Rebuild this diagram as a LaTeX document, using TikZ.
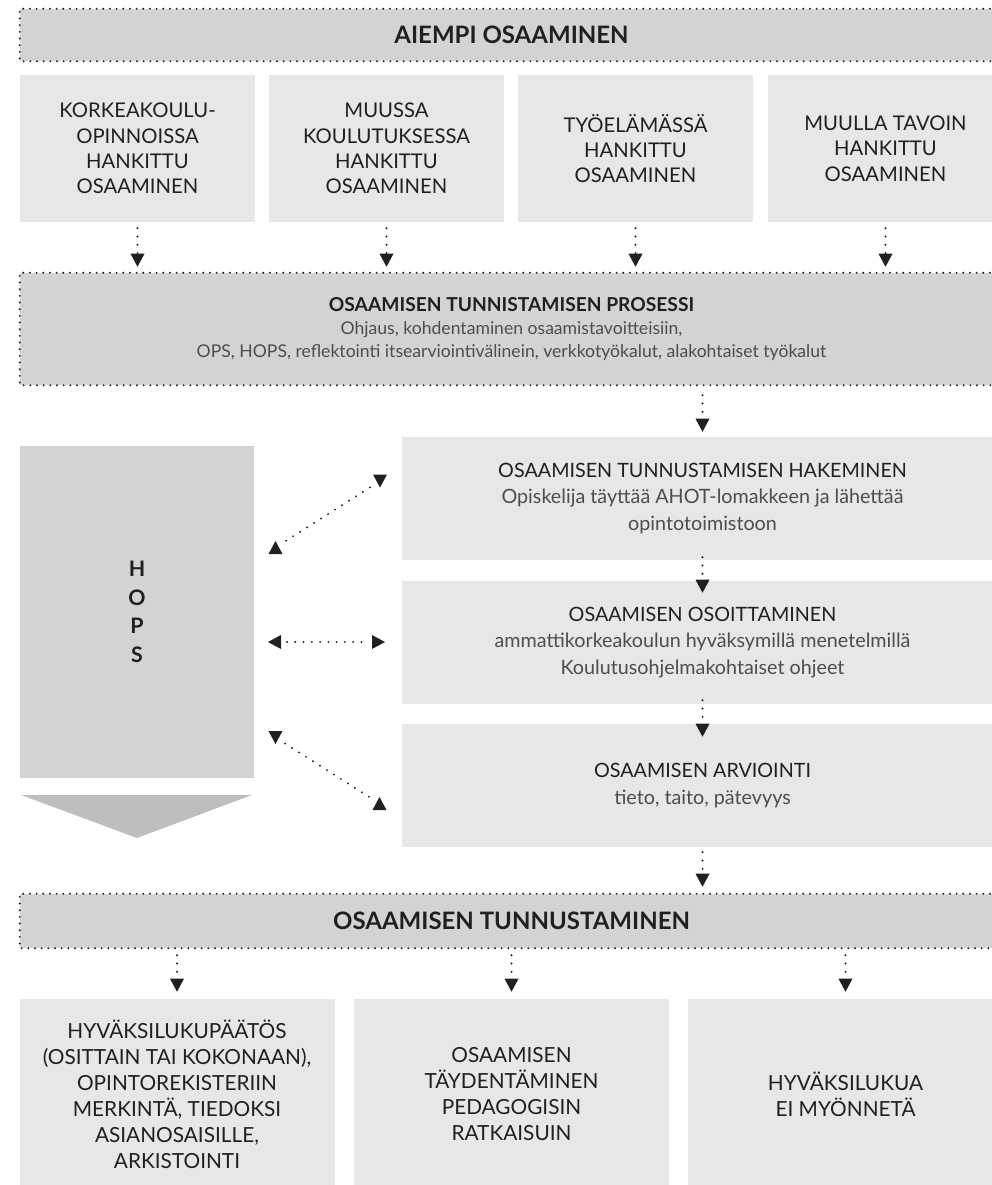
\documentclass[tikz,border=0pt]{standalone}
\usepackage{fontspec}
\setmainfont{Lato}
\usetikzlibrary{arrows.meta}

\definecolor{bandfill}{HTML}{D1D3D4}
\definecolor{cellfill}{HTML}{E6E7E8}
\definecolor{chevfill}{HTML}{BCBEC0}
\definecolor{ink}{HTML}{231F20}
\definecolor{softink}{HTML}{4D4D4F}

\tikzset{
  band/.style={fill=bandfill, inner sep=0pt, minimum width=737.25pt, align=center, text=ink},
  cell/.style={fill=cellfill, inner sep=0pt, align=center, text=ink},
  topcell/.style={cell, minimum width=176.25pt, minimum height=110.25pt,
    font=\fontsize{15.2pt}{19pt}\selectfont},
  midcell/.style={cell, minimum width=450.75pt, minimum height=92.25pt,
    font=\fontsize{14.8pt}{19.8pt}\selectfont},
  endcell/.style={cell, minimum width=236.25pt, minimum height=142.5pt,
    font=\fontsize{15.6pt}{19.5pt}\selectfont},
  bandtitle/.style={font=\bfseries\fontsize{18pt}{21pt}\selectfont},
  dotframe/.style={draw=ink, line width=1.6pt, line cap=round, dash pattern=on 0pt off 5pt},
  link/.style={draw=ink, line width=1.6pt, line cap=round, dash pattern=on 0pt off 6.2pt},
  flow/.style={link, -{Triangle[width=10.5pt, length=9.75pt, line width=0pt]}},
  pics/tipdown/.style={code={\fill[ink] (-7,-6.5) -- (7,-6.5) -- (0,6.5) -- cycle;}},
  pics/tipup/.style={code={\fill[ink] (-7,6.5) -- (7,6.5) -- (0,-6.5) -- cycle;}},
  pics/tipleft/.style={code={\fill[ink] (6.5,-7) -- (6.5,7) -- (-6.5,0) -- cycle;}},
  pics/tipright/.style={code={\fill[ink] (-6.5,-7) -- (-6.5,7) -- (6.5,0) -- cycle;}},
}

\begin{document}
\begin{tikzpicture}[x=0.75pt, y=-0.75pt]
\useasboundingbox (0,0) rectangle (992,1185);

% top band and the four sources of prior learning
\node[band, minimum height=39pt, bandtitle] (prior) at (511.5,35) {AIEMPI OSAAMINEN};
\draw[dotframe] (prior.north east) -- (prior.north west) -- (prior.south west) -- (prior.south east);

\node[topcell] (k1) at (137.5,148.5) {KORKEAKOULU-\\OPINNOISSA\\HANKITTU\\OSAAMINEN};
\node[topcell] (k2) at (386.5,148.5) {MUUSSA\\KOULUTUKSESSA\\HANKITTU\\OSAAMINEN};
\node[topcell] (k3) at (635.5,148.5) {TYÖELÄMÄSSÄ\\HANKITTU\\OSAAMINEN};
\node[topcell] (k4) at (885.5,148.5) {MUULLA TAVOIN\\HANKITTU\\OSAAMINEN};

% identification process band
\node[band, minimum height=84pt, font=\fontsize{13.2pt}{17.5pt}\selectfont] (proc) at (511.5,329)
  {{\bfseries\fontsize{14.4pt}{17.5pt}\selectfont OSAAMISEN TUNNISTAMISEN PROSESSI}\\
   {\color{softink}Ohjaus, kohdentaminen osaamistavoitteisiin,}\\
   {\color{softink}OPS, HOPS, reflektointi itsearviointivälinein, verkkotyökalut, alakohtaiset työkalut}};
\draw[dotframe] (proc.north east) -- (proc.north west) -- (proc.south west) -- (proc.south east);

\foreach \k in {k1,k2,k3,k4}
  \draw[flow, shorten <=4.5pt, shorten >=4.5pt] (\k.south) -- (\k.south |- proc.north);

% HOPS column with its chevron
\node[fill=bandfill, minimum width=175.5pt, minimum height=249pt, inner sep=0pt, align=center,
  text=ink, font=\bfseries\fontsize{16pt}{21.4pt}\selectfont] (hops) at (137,612) {H\\O\\P\\S};
\fill[chevfill] (21,795) -- (252,795) -- (137,838) -- cycle;

% recognition steps
\node[midcell] (hak) at (702.5,498.5)
  {OSAAMISEN TUNNUSTAMISEN HAKEMINEN\\
   {\color{softink}Opiskelija täyttää AHOT-lomakkeen ja lähettää}\\
   {\color{softink}opintotoimistoon}};
\node[midcell] (oso) at (702.5,642.5)
  {OSAAMISEN OSOITTAMINEN\\
   {\color{softink}ammattikorkeakoulun hyväksymillä menetelmillä}\\
   {\color{softink}Koulutusohjelmakohtaiset ohjeet}};
\node[midcell] (arv) at (702.5,785.5)
  {OSAAMISEN ARVIOINTI\\
   {\color{softink}tieto, taito, pätevyys}};

\draw[flow, shorten <=7.5pt, shorten >=3.75pt] (proc.south -| hak.north) -- (hak.north);
\draw[flow, shorten <=-2.25pt, shorten >=-9pt] (hak.south) -- (oso.north);
\draw[flow, shorten <=-3pt, shorten >=-9.75pt] (oso.south) -- (arv.north);

% two-way links between HOPS and the steps
\coordinate (ha1) at (275.5,547.5);
\coordinate (ha2) at (380,481);
\coordinate (hb1) at (274.5,642);
\coordinate (hb2) at (378.5,642);
\coordinate (hc1) at (275.5,737.5);
\coordinate (hc2) at (379.5,803.5);
\draw[link, shorten <=9.5pt, shorten >=8.5pt] (ha1) -- (ha2);
\draw[link, shorten <=9.4pt, shorten >=7.9pt] (hb1) -- (hb2);
\draw[link, shorten <=8.5pt, shorten >=8.5pt] (hc1) -- (hc2);
\pic at (ha1) {tipup};
\pic at (ha2) {tipdown};
\pic at (hb1) {tipleft};
\pic at (hb2) {tipright};
\pic at (hc1) {tipdown};
\pic at (hc2) {tipup};

% recognition band and outcomes
\node[band, minimum height=40.5pt, bandtitle] (recog) at (511.5,921) {OSAAMISEN TUNNUSTAMINEN};
\draw[dotframe] (recog.north east) -- (recog.north west) -- (recog.south west) -- (recog.south east);
\draw[flow, shorten <=3.75pt, shorten >=5.25pt] (arv.south) -- (arv.south |- recog.north);

\node[endcell] (r1) at (177,1094)
  {HYVÄKSILUKUPÄÄTÖS\\(OSITTAIN TAI KOKONAAN),\\OPINTOREKISTERIIN\\MERKINTÄ, TIEDOKSI\\ASIANOSAISILLE,\\ARKISTOINTI};
\node[endcell] (r2) at (511.5,1094) {OSAAMISEN\\TÄYDENTÄMINEN\\PEDAGOGISIN\\RATKAISUIN};
\node[endcell] (r3) at (845.5,1094) {HYVÄKSILUKUA\\EI MYÖNNETÄ};

\foreach \r in {r1,r2,r3}
  \draw[flow, shorten <=5.25pt, shorten >=5.25pt] (recog.south -| \r.north) -- (\r.north);
\end{tikzpicture}
\end{document}
